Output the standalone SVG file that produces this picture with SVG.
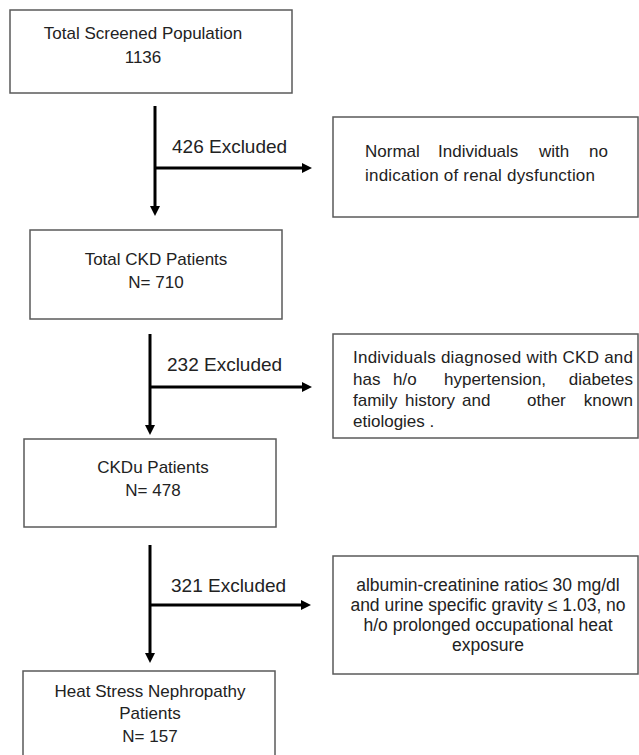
<svg xmlns="http://www.w3.org/2000/svg" width="639" height="755" viewBox="0 0 639 755">
<defs>
<style>
.box{fill:#fff;stroke:#5a5a5a;stroke-width:1.5}
.t{font-family:"Liberation Sans",Arial,sans-serif;font-size:17px;fill:#222}
.mid{font-size:17.5px}
.c{text-anchor:middle}
.e{text-anchor:end}
.lbl{font-family:"Liberation Sans",Arial,sans-serif;font-size:19px;fill:#222}
.ar{stroke:#000;stroke-width:3;fill:none;marker-end:url(#ah)}
</style>
<marker id="ah" markerUnits="userSpaceOnUse" markerWidth="10" markerHeight="10" refX="2" refY="5" orient="auto">
<path d="M0,0 L10,5 L0,10 z" fill="#000"/>
</marker>
</defs>
<rect width="639" height="755" fill="#fff"/>

<g id="n1">
<rect class="box" x="10" y="10" width="282" height="83"/>
<text class="t c" x="143" y="39">Total Screened Population</text>
<text class="t c" x="143" y="63">1136</text>
</g>

<g id="n2">
<rect class="box" x="333" y="117" width="305" height="100"/>
<text class="t" x="365" y="157">Normal</text>
<text class="t" x="438" y="157">Individuals</text>
<text class="t" x="539" y="157">with</text>
<text class="t e" x="608" y="157">no</text>
<text class="t" x="365" y="181" textLength="230" lengthAdjust="spacing">indication of renal dysfunction</text>
</g>

<g id="n3">
<rect class="box" x="30" y="230" width="252" height="89"/>
<text class="t c" x="156" y="265">Total CKD Patients</text>
<text class="t c" x="156" y="288">N= 710</text>
</g>

<g id="n4">
<rect class="box" x="333" y="334" width="305" height="104"/>
<text class="t" x="353" y="363" textLength="280" lengthAdjust="spacing">Individuals diagnosed with CKD and</text>
<text class="t" x="353" y="385">has</text>
<text class="t" x="393" y="385">h/o</text>
<text class="t" x="444" y="385">hypertension,</text>
<text class="t e" x="633" y="385">diabetes</text>
<text class="t" x="353" y="406">family</text>
<text class="t" x="405" y="406">history</text>
<text class="t" x="462" y="406">and</text>
<text class="t" x="527" y="406">other</text>
<text class="t e" x="633" y="406">known</text>
<text class="t" x="353" y="427">etiologies .</text>
</g>

<g id="n5">
<rect class="box" x="24" y="439" width="252" height="88"/>
<text class="t c" x="153" y="473">CKDu Patients</text>
<text class="t c" x="153" y="496">N= 478</text>
</g>

<g id="n6">
<rect class="box" x="333" y="556" width="305" height="118"/>
<text class="t mid c" x="488" y="591">albumin-creatinine ratio≤ 30 mg/dl</text>
<text class="t mid c" x="488" y="611">and urine specific gravity ≤ 1.03, no</text>
<text class="t mid c" x="488" y="631">h/o prolonged occupational heat</text>
<text class="t mid c" x="488" y="651">exposure</text>
</g>

<g id="n7">
<rect class="box" x="23" y="671" width="252" height="100"/>
<text class="t c" x="150" y="697">Heat Stress Nephropathy</text>
<text class="t c" x="150" y="719">Patients</text>
<text class="t c" x="150" y="742">N= 157</text>
</g>

<g id="connectors">
<line class="ar" x1="155" y1="106" x2="155" y2="208"/>
<line class="ar" x1="155" y1="168" x2="304" y2="168"/>
<text class="lbl" x="172" y="153">426 Excluded</text>

<line class="ar" x1="150" y1="334" x2="150" y2="427"/>
<line class="ar" x1="150" y1="387" x2="304" y2="387"/>
<text class="lbl" x="167" y="371">232 Excluded</text>

<line class="ar" x1="150" y1="545" x2="150" y2="655"/>
<line class="ar" x1="150" y1="605" x2="303" y2="605"/>
<text class="lbl" x="171" y="592">321 Excluded</text>
</g>
</svg>
